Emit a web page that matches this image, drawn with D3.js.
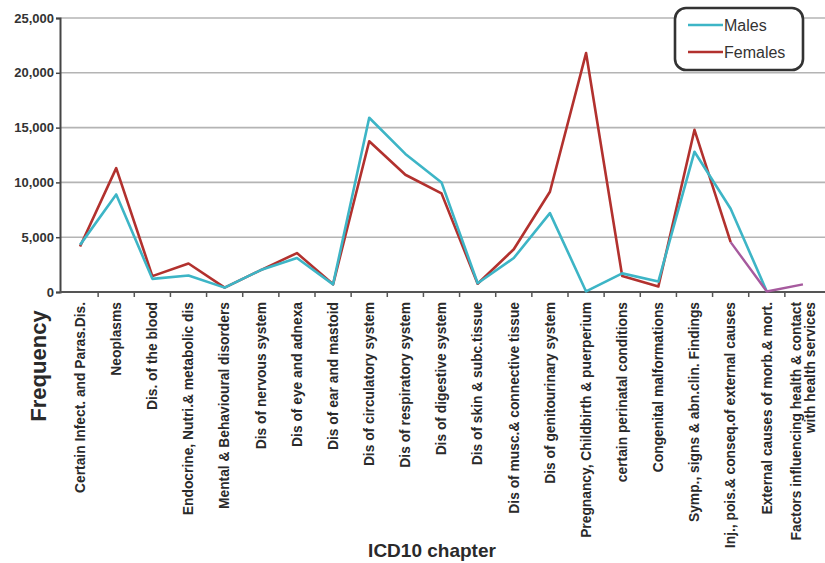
<!DOCTYPE html>
<html><head><meta charset="utf-8">
<script src="https://cdn.jsdelivr.net/npm/d3@7"></script>
<style>
html,body{margin:0;padding:0;background:#fff;}
svg{display:block;font-family:"Liberation Sans",Arial,sans-serif;}
</style></head>
<body><svg id="c" width="825" height="563"></svg>
<script>
const categories = [
  "Certain Infect. and Paras.Dis.",
  "Neoplasms",
  "Dis. of the blood",
  "Endocrine, Nutri.& metabolic dis",
  "Mental & Behavioural disorders",
  "Dis of nervous system",
  "Dis of eye and adnexa",
  "Dis of ear and mastoid",
  "Dis of circulatory system",
  "Dis of respiratory system",
  "Dis of digestive system",
  "Dis of skin & subc.tissue",
  "Dis of musc.& connective tissue",
  "Dis of genitourinary system",
  "Pregnancy, Childbirth & puerperium",
  "certain perinatal conditions",
  "Congenital malformations",
  "Symp., signs & abn.clin. Findings",
  "Inj., pois.& conseq.of external causes",
  "External causes of morb.& mort.",
  "Factors influencing health & contact|with health services"
];
const males   = [4300, 8900, 1200, 1500, 400, 2000, 3100, 700, 15900, 12600, 10000, 800, 3100, 7200, 50, 1700, 950, 12800, 7600, 50, null];
const females = [4150, 11300, 1450, 2600, 400, 2000, 3550, 700, 13750, 10700, 9000, 750, 3900, 9150, 21800, 1450, 500, 14800, 4550, 50, 700];
const yTicks = [0, 5000, 10000, 15000, 20000, 25000];
const seriesNames = ["Males", "Females"];
const colors = {Males: "#3db5c6", Females: "#b2312e", tail: "#a65a9e"};

const svg = d3.select("#c");
const x = d3.scalePoint().domain(categories).range([62, 821]).padding(0.5);
const xb = d3.scaleBand().domain(categories).range([62, 821]);
const y = d3.scaleLinear().domain([0, 25000]).range([292, 18]);

// gridlines
svg.append("g").selectAll("line").data(yTicks.filter(d => d > 0)).join("line")
  .attr("x1", 60).attr("x2", 825).attr("y1", d => y(d)).attr("y2", d => y(d))
  .attr("stroke", "#b4b4b4").attr("stroke-width", 1.6);

// y axis
const ya = svg.append("g").attr("transform", "translate(60,0)")
  .call(d3.axisLeft(y).tickValues(yTicks).tickFormat(d3.format(",")).tickSize(4).tickPadding(2));
ya.select(".domain").attr("stroke", "#444").attr("stroke-width", 2);
ya.selectAll(".tick line").attr("stroke", "#444").attr("stroke-width", 1.5);
ya.selectAll(".tick text").attr("font-size", 13).attr("font-weight", "bold").attr("fill", "#333")
  .attr("font-family", "'Liberation Sans', Arial, sans-serif");

// x axis line
svg.append("line").attr("x1", 60).attr("x2", 825).attr("y1", y(0)).attr("y2", y(0))
  .attr("stroke", "#555").attr("stroke-width", 2);
// x boundary ticks
svg.append("g").selectAll("line").data(categories.slice(1)).join("line")
  .attr("x1", d => xb(d)).attr("x2", d => xb(d)).attr("y1", y(0)).attr("y2", y(0) + 5)
  .attr("stroke", "#555").attr("stroke-width", 1.5);

// category labels
const lab = svg.append("g").selectAll("text").data(categories).join("text")
  .attr("transform", d => `translate(${x(d)},302) rotate(-90)`)
  .attr("text-anchor", "end")
  .attr("font-size", 13.8).attr("font-weight", "bold").attr("fill", "#2a2a2a");
lab.each(function(d) {
  const parts = d.split("|");
  const t = d3.select(this);
  parts.forEach((p, i) => {
    t.append("tspan").attr("x", 0)
      .attr("dy", parts.length > 1 ? (i === 0 ? "-0.15em" : "1.05em") : "0.35em")
      .attr("text-anchor", "end").text(p);
  });
});

// lines
const line = d3.line().defined(d => d[1] != null).x(d => x(d[0])).y(d => y(d[1]));
const mData = categories.map((c, i) => [c, males[i]]);
const fData = categories.map((c, i) => [c, females[i]]);
const tailStart = 18;
svg.append("path").datum(fData.slice(0, tailStart + 1)).attr("d", line)
  .attr("fill", "none").attr("stroke", colors.Females).attr("stroke-width", 2.6).attr("stroke-linejoin", "round");
svg.append("path").datum(mData).attr("d", line)
  .attr("fill", "none").attr("stroke", colors.Males).attr("stroke-width", 2.6).attr("stroke-linejoin", "round");
svg.append("path").datum(fData.slice(tailStart)).attr("d", line)
  .attr("fill", "none").attr("stroke", colors.tail).attr("stroke-width", 2.4).attr("stroke-linejoin", "round");

// legend
const lg = svg.append("g");
lg.append("rect").attr("x", 675).attr("y", 8).attr("width", 128).attr("height", 62)
  .attr("rx", 11).attr("fill", "#fff").attr("stroke", "#333").attr("stroke-width", 2.6);
seriesNames.forEach((s, i) => {
  const yy = 25 + i * 27;
  lg.append("line").attr("x1", 688).attr("x2", 723).attr("y1", yy).attr("y2", yy)
    .attr("stroke", colors[s]).attr("stroke-width", 2.6);
  lg.append("text").attr("x", 724).attr("y", yy + 5.5).attr("font-size", 16).attr("fill", "#333").text(s);
});

// axis titles
svg.append("text").attr("transform", "translate(46,366) rotate(-90)").attr("text-anchor", "middle")
  .attr("font-size", 22).attr("font-weight", "bold").attr("fill", "#2a2a2a").text("Frequency");
svg.append("text").attr("x", 432).attr("y", 557).attr("text-anchor", "middle")
  .attr("font-size", 19).attr("font-weight", "bold").attr("fill", "#2a2a2a").text("ICD10 chapter");
</script></body></html>
